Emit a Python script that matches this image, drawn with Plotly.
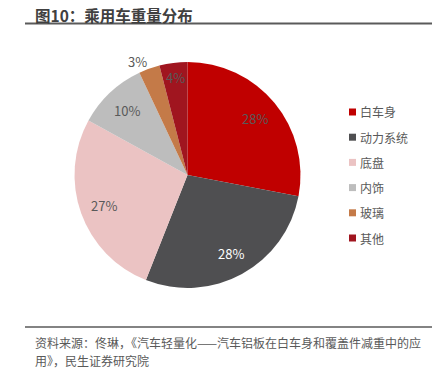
import math
import plotly.graph_objects as go

categories = ["白车身", "动力系统", "底盘", "内饰", "玻璃", "其他"]
values = [28, 28, 27, 10, 3, 4]
colors = ["#C00000", "#4F4F51", "#EBC3C3", "#BDBDBD", "#C47A48", "#A0151F"]
label_colors = ["#595959", "#FFFFFF", "#595959", "#595959", "#595959", "#595959"]
label_radius = [0.78, 0.79, 0.79, 0.78, 1.10, 0.87]
label_angle_shift = [0, 0, 0, 0, -4, 0]

W, H = 440, 373
FONT = "Noto Sans CJK SC, Noto Sans, sans-serif"


def px(x):
    return x / W


def py(y):
    return 1 - y / H


cx, cy, R = 187.5, 175.0, 113.0

fig = go.Figure(go.Pie(
    labels=categories, values=values, sort=False, direction="clockwise",
    rotation=0, marker=dict(colors=colors, line=dict(width=0)),
    textinfo="none", hoverinfo="label+percent", showlegend=False,
    domain=dict(x=[px(cx - R), px(cx + R)], y=[py(cy + R), py(cy - R)]),
))

annotations = []
shapes = []
total = sum(values)
cum = 0
for v, lc, lr, sh in zip(values, label_colors, label_radius, label_angle_shift):
    mid = (cum + v / 2) / total * 2 * math.pi + math.radians(sh)
    cum += v
    lx = cx + math.sin(mid) * R * lr
    ly = cy - math.cos(mid) * R * lr
    annotations.append(dict(x=px(lx), y=py(ly), xref="paper", yref="paper",
                            xanchor="center", yanchor="middle",
                            text=f"{v}%", showarrow=False,
                            font=dict(size=13, color=lc, family=FONT)))

# legend (manual)
for i, (c, col) in enumerate(zip(categories, colors)):
    ly = 112 + i * 25.2
    shapes.append(dict(type="rect", xref="paper", yref="paper",
                       x0=px(349), x1=px(356), y0=py(ly + 3.5), y1=py(ly - 3.5),
                       fillcolor=col, line=dict(width=0)))
    annotations.append(dict(x=px(358), y=py(ly), xref="paper", yref="paper",
                            xanchor="left", yanchor="middle", text=c, showarrow=False,
                            font=dict(size=12, color="#595959", family=FONT)))

# title
annotations.append(dict(x=px(33), y=py(14.5), xref="paper", yref="paper",
                        xanchor="left", yanchor="middle", text="<b>图10：乘用车重量分布</b>",
                        showarrow=False, font=dict(size=15.5, color="#404040", family=FONT)))
shapes.append(dict(type="line", xref="paper", yref="paper", x0=px(25), x1=px(432),
                   y0=py(23.5), y1=py(23.5), line=dict(color="#5A5A5A", width=2)))
shapes.append(dict(type="line", xref="paper", yref="paper", x0=px(25), x1=px(432),
                   y0=py(327), y1=py(327), line=dict(color="#5A5A5A", width=1.5)))

annotations.append(dict(x=px(33), y=py(342), xref="paper", yref="paper",
                        xanchor="left", yanchor="middle", align="left",
                        text="资料来源：佟琳，《汽车轻量化——汽车铝板在白车身和覆盖件减重中的应",
                        showarrow=False, font=dict(size=12, color="#595959", family=FONT)))
annotations.append(dict(x=px(33), y=py(360), xref="paper", yref="paper",
                        xanchor="left", yanchor="middle", align="left",
                        text="用》，民生证券研究院",
                        showarrow=False, font=dict(size=12, color="#595959", family=FONT)))

fig.update_layout(width=W, height=H, margin=dict(l=0, r=0, t=0, b=0),
                  paper_bgcolor="white", plot_bgcolor="white",
                  annotations=annotations, shapes=shapes)
fig.write_html("out.html", config={"displayModeBar": False},
               post_script="document.body.style.margin='0';document.body.style.overflow='hidden';")
